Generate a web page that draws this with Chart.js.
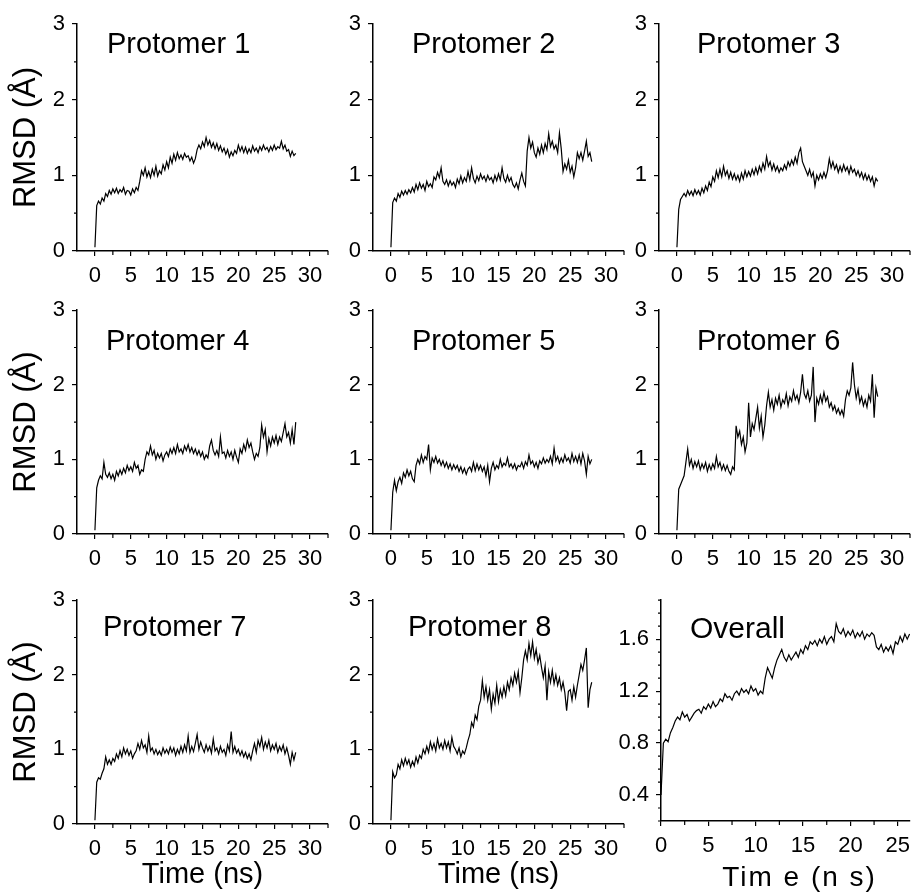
<!DOCTYPE html>
<html>
<head>
<meta charset="utf-8">
<script src="https://cdn.jsdelivr.net/npm/chart.js@4"></script>
<style>
  html, body { margin: 0; padding: 0; background: #fff; }
  #page { position: relative; width: 917px; height: 895px; overflow: hidden; }
  .panel { position: absolute; }
</style>
</head>
<body>
<div id="page"></div>
<script>
// time in ns (sampled every 0.25 ns)
const TIME = [
  0, 0.25, 0.5, 0.75, 1, 1.25, 1.5, 1.75, 2, 2.25, 2.5, 2.75, 3, 3.25, 3.5, 3.75,
  4, 4.25, 4.5, 4.75, 5, 5.25, 5.5, 5.75, 6, 6.25, 6.5, 6.75, 7, 7.25, 7.5, 7.75,
  8, 8.25, 8.5, 8.75, 9, 9.25, 9.5, 9.75, 10, 10.25, 10.5, 10.75, 11, 11.25, 11.5, 11.75,
  12, 12.25, 12.5, 12.75, 13, 13.25, 13.5, 13.75, 14, 14.25, 14.5, 14.75, 15, 15.25, 15.5, 15.75,
  16, 16.25, 16.5, 16.75, 17, 17.25, 17.5, 17.75, 18, 18.25, 18.5, 18.75, 19, 19.25, 19.5, 19.75,
  20, 20.25, 20.5, 20.75, 21, 21.25, 21.5, 21.75, 22, 22.25, 22.5, 22.75, 23, 23.25, 23.5, 23.75,
  24, 24.25, 24.5, 24.75, 25, 25.25, 25.5, 25.75, 26, 26.25, 26.5, 26.75, 27, 27.25, 27.5, 27.75,
  28
];

// RMSD (Å) per protomer
const P1 = [
  0.05, 0.60, 0.66, 0.62,  0.70, 0.66, 0.76, 0.72,  0.80, 0.75, 0.82, 0.77,  0.83, 0.76, 0.81, 0.78,
  0.84, 0.75, 0.80, 0.79,  0.74, 0.82, 0.77, 0.84,  0.80, 0.92, 1.06, 1.00,  1.10, 0.98, 1.05, 0.97,
  1.08, 1.00, 1.12, 0.99,  1.06, 1.02, 1.14, 1.07,  1.18, 1.10, 1.24, 1.16,  1.28, 1.20, 1.30, 1.22,
  1.27, 1.21, 1.29, 1.24,  1.26, 1.19, 1.24, 1.16,  1.22, 1.34, 1.40, 1.35,  1.44, 1.38, 1.50, 1.40,
  1.46, 1.37, 1.43, 1.35,  1.42, 1.33, 1.39, 1.31,  1.36, 1.28, 1.34, 1.24,  1.31, 1.26, 1.33, 1.29,
  1.40, 1.32, 1.38, 1.30,  1.37, 1.29, 1.35, 1.30,  1.39, 1.32, 1.36, 1.30,  1.38, 1.33, 1.40, 1.34,
  1.37, 1.31, 1.38, 1.33,  1.40, 1.34, 1.38, 1.36,  1.45, 1.35, 1.40, 1.32,  1.34, 1.25, 1.32, 1.26,
  1.29
];
const P2 = [
  0.05, 0.64, 0.70, 0.66,  0.76, 0.71, 0.79, 0.74,  0.80, 0.75, 0.81, 0.77,  0.84, 0.78, 0.88, 0.81,
  0.90, 0.83, 0.88, 0.80,  0.92, 0.85, 0.89, 0.84,  0.98, 0.94, 1.04, 0.97,  1.10, 0.92, 0.88, 0.94,
  0.86, 0.93, 0.87, 0.91,  0.84, 0.95, 0.89, 0.99,  0.90, 0.97, 0.92, 1.05,  0.94, 1.10, 0.96, 0.90,
  0.99, 0.93, 1.02, 0.95,  0.99, 0.92, 1.00, 0.94,  0.97, 0.90, 1.00, 0.93,  1.02, 0.94, 1.10, 0.96,
  0.91, 1.00, 0.92, 0.97,  0.88, 0.84, 0.90, 0.82,  0.94, 1.03, 0.92, 0.86,  1.32, 1.50, 1.36, 1.44,
  1.30, 1.24, 1.36, 1.28,  1.40, 1.30, 1.42, 1.34,  1.55, 1.38, 1.45, 1.35,  1.40, 1.30, 1.56, 1.35,
  1.05, 1.15, 1.08, 1.20,  1.04, 1.12, 0.98, 1.10,  1.30, 1.22, 1.30, 1.20,  1.32, 1.45, 1.25, 1.30,
  1.18
];
const P3 = [
  0.05, 0.55, 0.68, 0.72,  0.76, 0.72, 0.80, 0.74,  0.79, 0.73, 0.81, 0.75,  0.80, 0.74, 0.83, 0.77,
  0.86, 0.80, 0.91, 0.85,  0.98, 0.92, 1.06, 0.97,  1.08, 0.98, 1.12, 1.00,  1.06, 0.96, 1.04, 0.95,
  1.02, 0.94, 1.00, 0.92,  1.03, 0.95, 1.06, 0.98,  1.05, 0.99, 1.08, 1.01,  1.10, 1.02, 1.12, 1.05,
  1.16, 1.08, 1.25, 1.12,  1.18, 1.07, 1.15, 1.06,  1.12, 1.04, 1.10, 1.06,  1.14, 1.08, 1.18, 1.12,
  1.20, 1.14, 1.24, 1.16,  1.30, 1.36, 1.18, 1.12,  1.06, 1.00, 1.08, 0.98,  1.04, 0.86, 1.00, 0.94,
  1.02, 0.96, 1.04, 0.97,  1.06, 1.22, 1.10, 1.18,  1.08, 1.14, 1.04, 1.12,  1.05, 1.14, 1.06, 1.11,
  1.02, 1.12, 1.04, 1.08,  1.00, 1.06, 0.98, 1.04,  0.95, 1.02, 0.94, 1.00,  0.92, 0.98, 0.86, 0.96,
  0.92
];
const P4 = [
  0.05, 0.62, 0.72, 0.78,  0.74, 0.96, 0.80, 0.76,  0.82, 0.74, 0.80, 0.72,  0.84, 0.78, 0.86, 0.80,
  0.88, 0.82, 0.92, 0.85,  0.90, 0.84, 0.96, 0.88,  0.92, 0.80, 0.86, 0.84,  1.00, 1.10, 1.06, 1.18,
  1.06, 1.12, 1.00, 1.08,  1.02, 1.08, 0.98, 1.06,  1.10, 1.04, 1.14, 1.08,  1.16, 1.08, 1.20, 1.10,
  1.14, 1.08, 1.18, 1.12,  1.20, 1.10, 1.16, 1.08,  1.14, 1.06, 1.12, 1.04,  1.10, 1.00, 1.06, 1.02,
  1.18, 1.26, 1.12, 1.06,  1.12, 1.04, 1.30, 1.08,  1.10, 1.02, 1.12, 1.04,  1.10, 1.00, 1.12, 1.03,
  0.96, 1.14, 1.08, 1.20,  1.12, 1.26, 1.16, 1.22,  1.10, 1.00, 1.08, 1.04,  1.16, 1.46, 1.30, 1.40,
  1.10, 1.28, 1.18, 1.30,  1.22, 1.32, 1.20, 1.30,  1.24, 1.36, 1.48, 1.30,  1.36, 1.22, 1.40, 1.20,
  1.50
];
const P5 = [
  0.05, 0.56, 0.72, 0.58,  0.70, 0.76, 0.68, 0.82,  0.76, 0.86, 0.78, 0.84,  0.74, 0.70, 0.92, 1.00,
  0.94, 1.06, 0.96, 1.04,  1.00, 1.20, 0.86, 1.02,  0.96, 1.04, 0.95, 1.00,  0.92, 0.98, 0.90, 0.96,
  0.88, 0.94, 0.86, 0.93,  0.87, 0.92, 0.84, 0.90,  0.82, 0.88, 0.80, 0.87,  0.90, 0.84, 0.96, 0.85,
  0.94, 0.86, 0.92, 0.84,  0.90, 0.78, 0.92, 0.70,  0.88, 0.96, 0.86, 0.92,  0.88, 1.00, 0.90, 0.95,
  0.92, 1.02, 0.90, 0.94,  0.88, 0.94, 0.86, 0.92,  0.90, 0.96, 0.88, 0.97,  0.92, 1.06, 0.94, 0.98,
  0.90, 0.96, 0.88, 0.98,  0.94, 1.02, 0.95, 1.00,  0.96, 1.04, 0.94, 1.15,  0.98, 1.04, 0.95, 1.02,
  0.96, 1.06, 0.98, 1.02,  0.95, 1.08, 0.97, 1.04,  0.96, 1.06, 0.94, 1.08,  0.98, 0.80, 1.04, 0.94,
  1.00
];
const P6 = [
  0.05, 0.60, 0.66, 0.72,  0.78, 0.96, 1.14, 0.92,  1.00, 0.88, 0.97, 0.90,  0.98, 0.86, 0.94, 0.88,
  0.96, 0.84, 0.93, 0.86,  0.94, 0.88, 1.04, 0.90,  0.96, 0.86, 0.93, 0.85,  0.92, 0.84, 0.80, 0.90,
  0.86, 1.45, 1.30, 1.38,  1.20, 1.30, 1.10, 1.22,  1.76, 1.30, 1.48, 1.40,  1.55, 1.70, 1.42, 1.58,
  1.30, 1.46, 1.72, 1.90,  1.70, 1.80, 1.66, 1.82,  1.74, 1.86, 1.70, 1.80,  1.75, 1.88, 1.72, 1.84,
  1.78, 1.92, 1.80, 1.86,  1.76, 1.90, 2.14, 1.88,  1.82, 1.92, 1.78, 1.86,  2.24, 1.50, 1.82, 1.74,
  1.86, 1.76, 1.90, 1.78,  1.84, 1.70, 1.76, 1.66,  1.72, 1.62, 1.68, 1.60,  1.66, 1.58, 1.80, 1.92,
  1.86, 1.96, 2.30, 2.00,  1.82, 1.94, 1.76, 1.84,  1.72, 1.80, 1.70, 1.86,  1.78, 2.14, 1.56, 1.96,
  1.84
];
const P7 = [
  0.05, 0.56, 0.62, 0.60,  0.68, 0.74, 0.90, 0.80,  0.86, 0.80, 0.88, 0.84,  0.94, 0.88, 0.98, 0.90,
  1.02, 0.94, 1.00, 0.92,  0.98, 0.88, 0.94, 0.98,  1.08, 1.00, 1.12, 1.02,  1.06, 0.96, 1.18, 0.98,
  1.02, 0.94, 1.00, 0.93,  0.98, 0.92, 1.02, 0.95,  1.00, 0.94, 1.03, 0.96,  1.02, 0.92, 1.00, 0.94,
  1.04, 0.96, 1.06, 0.98,  1.18, 0.96, 1.04, 0.97,  1.08, 1.20, 1.00, 1.10,  1.02, 0.96, 1.06, 0.98,
  1.04, 0.95, 1.14, 0.98,  1.02, 0.94, 1.04, 0.96,  1.00, 0.92, 1.06, 0.98,  1.24, 0.96, 1.04, 0.95,
  1.00, 0.92, 0.98, 0.90,  0.96, 0.88, 0.94, 0.86,  0.98, 1.08, 0.96, 1.12,  1.04, 1.16, 1.00, 1.10,
  1.02, 1.12, 0.98, 1.06,  1.00, 1.08, 0.96, 1.04,  0.98, 1.06, 0.94, 1.02,  0.92, 0.80, 0.96, 0.86,
  0.96
];
const P8 = [
  0.05, 0.70, 0.62, 0.66,  0.80, 0.74, 0.86, 0.78,  0.88, 0.80, 0.86, 0.76,  0.84, 0.78, 0.90, 0.82,
  0.92, 0.88, 1.00, 0.94,  1.04, 0.96, 1.10, 1.00,  1.08, 0.98, 1.14, 1.02,  1.08, 1.00, 1.12, 1.02,
  1.10, 0.98, 1.16, 1.04,  1.00, 0.94, 1.02, 0.90,  0.98, 0.94, 1.02, 1.12,  1.20, 1.36, 1.30, 1.46,
  1.40, 1.58, 1.66, 1.92,  1.70, 1.84, 1.66, 1.80,  1.54, 1.74, 1.62, 1.86,  1.64, 1.80, 1.70, 1.84,
  1.72, 1.90, 1.80, 1.96,  1.86, 2.02, 1.90, 2.04,  1.76, 1.96, 2.20, 2.32,  2.20, 2.42, 2.26, 2.44,
  2.22, 2.34, 2.16, 2.26,  2.10, 1.96, 2.12, 1.66,  2.04, 1.90, 2.06, 1.88,  2.00, 1.86, 1.96, 1.80,
  1.90, 1.76, 1.52, 1.78,  1.80, 1.66, 1.84, 1.70,  1.86, 2.00, 2.14, 2.06,  2.20, 2.36, 1.56, 1.80,
  1.90
];
// overall RMSD, runs to 26.25 ns
const OVERALL = [
  0.40, 0.80, 0.83, 0.81,  0.88, 0.92, 0.97, 1.00,  0.98, 1.04, 1.00, 1.02,  0.97, 1.00, 1.03, 1.05,
  1.06, 1.03, 1.08, 1.06,  1.10, 1.07, 1.12, 1.08,  1.10, 1.14, 1.12, 1.18,  1.15, 1.16, 1.13, 1.18,
  1.20, 1.17, 1.22, 1.19,  1.21, 1.18, 1.24, 1.20,  1.22, 1.17, 1.20, 1.18,  1.30, 1.38, 1.34, 1.30,
  1.38, 1.44, 1.48, 1.52,  1.46, 1.43, 1.48, 1.44,  1.47, 1.50, 1.46, 1.52,  1.49, 1.55, 1.52, 1.58,
  1.56, 1.59, 1.55, 1.60,  1.57, 1.62, 1.56, 1.60,  1.62, 1.58, 1.72, 1.66,  1.64, 1.68, 1.62, 1.66,
  1.63, 1.67, 1.61, 1.65,  1.62, 1.66, 1.60, 1.64,  1.62, 1.65, 1.63, 1.54,  1.52, 1.56, 1.50, 1.54,
  1.51, 1.55, 1.49, 1.58,  1.56, 1.62, 1.58, 1.64,  1.60, 1.64
];

const X_TICKS = [0, 5, 10, 15, 20, 25, 30];
const X_MINOR = [2.5, 7.5, 12.5, 17.5, 22.5, 27.5, 32.5];
const Y_TICKS = [0, 1, 2, 3];
const Y_MINOR = [0.5, 1.5, 2.5];
const OV_X_TICKS = [0, 5, 10, 15, 20, 25];
const OV_X_MINOR = [2.5, 7.5, 12.5, 17.5, 22.5];
const OV_Y_TICKS = [0.4, 0.8, 1.2, 1.6];
const OV_Y_MINOR = [0.2, 0.3, 0.5, 0.6, 0.7, 0.9, 1.0, 1.1, 1.3, 1.4, 1.5, 1.7, 1.8, 1.9];

const FONT = '"Liberation Sans", Arial, Helvetica, sans-serif';

// layout of each panel: box = [left, top, width, height] on the page
const panels = [
  { label: 'Protomer 1', y: P1, box: [0, 0, 335, 290],     yw: 77, pt: 24, pr: 7, xh: 39, lx: 30, ly: 29, yTitle: true },
  { label: 'Protomer 2', y: P2, box: [335, 0, 295, 290],   yw: 38, pt: 24, pr: 6, xh: 39, lx: 39, ly: 29 },
  { label: 'Protomer 3', y: P3, box: [600, 0, 317, 290],   yw: 59, pt: 24, pr: 7, xh: 39, lx: 38, ly: 29 },
  { label: 'Protomer 4', y: P4, box: [0, 290, 335, 290],   yw: 77, pt: 17, pr: 7, xh: 46, lx: 29, ly: 40, yTitle: true },
  { label: 'Protomer 5', y: P5, box: [335, 290, 295, 290], yw: 38, pt: 17, pr: 6, xh: 46, lx: 39, ly: 40 },
  { label: 'Protomer 6', y: P6, box: [600, 290, 317, 290], yw: 59, pt: 17, pr: 7, xh: 46, lx: 38, ly: 40 },
  { label: 'Protomer 7', y: P7, box: [0, 580, 335, 315],   yw: 77, pt: 17, pr: 7, xh: 71, lx: 26, ly: 36, yTitle: true, xTitle: 'Time (ns)' },
  { label: 'Protomer 8', y: P8, box: [335, 580, 295, 315], yw: 38, pt: 17, pr: 6, xh: 71, lx: 35, ly: 36, xTitle: 'Time (ns)' },
  { label: 'Overall', y: OVERALL, box: [600, 580, 317, 315], yw: 61, pt: 14, pr: 0, xh: 74, lx: 29, ly: 38, overall: true }
];

// minor ticks, in-plot label and the spaced-out time title of the last panel
const panelDecor = {
  id: 'panelDecor',
  afterDraw(chart, args, opts) {
    const { ctx, chartArea, scales } = chart;
    ctx.save();
    ctx.strokeStyle = '#000';
    ctx.lineWidth = 1.2;
    ctx.beginPath();
    opts.xMinor.forEach(v => {
      const px = scales.x.getPixelForValue(v);
      ctx.moveTo(px, chartArea.bottom);
      ctx.lineTo(px, chartArea.bottom + 4);
    });
    opts.yMinor.forEach(v => {
      const py = scales.y.getPixelForValue(v);
      ctx.moveTo(chartArea.left, py);
      ctx.lineTo(chartArea.left - 3, py);
    });
    ctx.stroke();
    ctx.fillStyle = '#000';
    ctx.font = (opts.big ? '30px ' : '29px ') + FONT;
    ctx.textBaseline = 'alphabetic';
    ctx.textAlign = 'left';
    ctx.fillText(opts.label, chartArea.left + opts.lx, chartArea.top + opts.ly);
    if (opts.spacedTitle) {
      ctx.font = '28px ' + FONT;
      ctx.textAlign = 'center';
      if ('letterSpacing' in ctx) ctx.letterSpacing = '2px';
      ctx.fillText(opts.spacedTitle, (chartArea.left + chartArea.right) / 2 + 14, chartArea.bottom + 65);
    }
    ctx.restore();
  }
};

const page = document.getElementById('page');

panels.forEach(p => {
  const div = document.createElement('div');
  div.className = 'panel';
  div.style.left = p.box[0] + 'px';
  div.style.top = p.box[1] + 'px';
  div.style.width = p.box[2] + 'px';
  div.style.height = p.box[3] + 'px';
  const canvas = document.createElement('canvas');
  div.appendChild(canvas);
  page.appendChild(div);

  const xTicks = p.overall ? OV_X_TICKS : X_TICKS;
  const yTicks = p.overall ? OV_Y_TICKS : Y_TICKS;
  const gridOpts = { drawOnChartArea: false, drawTicks: true, tickLength: 5, color: '#000', lineWidth: 1.2 };
  const borderOpts = { display: true, color: '#000', width: 1.5 };

  new Chart(canvas, {
    type: 'line',
    data: {
      datasets: [{
        data: p.y.map((v, i) => ({ x: TIME[i], y: v })),
        borderColor: '#000',
        borderWidth: 1.2,
        pointRadius: 0,
        tension: 0,
        fill: false
      }]
    },
    options: {
      responsive: true,
      maintainAspectRatio: false,
      animation: false,
      events: [],
      layout: { padding: { top: p.pt, right: p.pr, bottom: 0, left: 0 } },
      plugins: {
        legend: { display: false },
        tooltip: { enabled: false },
        panelDecor: {
          label: p.label, lx: p.lx, ly: p.ly, big: !!p.overall,
          spacedTitle: p.overall ? 'Tim e (n s)' : null,
          xMinor: p.overall ? OV_X_MINOR : X_MINOR,
          yMinor: p.overall ? OV_Y_MINOR : Y_MINOR
        }
      },
      scales: {
        x: {
          type: 'linear',
          min: p.overall ? 0 : -2.5,
          max: p.overall ? 26.3 : 32.5,
          afterBuildTicks: s => { s.ticks = xTicks.map(v => ({ value: v })); },
          afterFit: s => { s.height = p.xh; },
          ticks: { color: '#000', font: { family: FONT, size: 22 }, padding: 7, maxRotation: 0, autoSkip: false, callback: v => String(v) },
          grid: gridOpts,
          border: borderOpts,
          title: {
            display: !!p.xTitle,
            text: p.xTitle || '',
            color: '#000',
            font: { family: FONT, size: 29 },
            padding: { top: 0, bottom: 3 }
          }
        },
        y: {
          type: 'linear',
          min: p.overall ? 0.2 : 0,
          max: p.overall ? 1.9 : 3,
          afterBuildTicks: s => { s.ticks = yTicks.map(v => ({ value: v })); },
          afterFit: s => { s.width = p.yw; },
          ticks: { color: '#000', font: { family: FONT, size: 22 }, padding: 7, autoSkip: false, callback: v => String(v) },
          grid: gridOpts,
          border: borderOpts,
          title: {
            display: !!p.yTitle,
            text: 'RMSD (Å)',
            color: '#000',
            font: { family: FONT, size: 31 },
            padding: { top: 8, bottom: 0 }
          }
        }
      }
    },
    plugins: [panelDecor]
  });
});
</script>
</body>
</html>
